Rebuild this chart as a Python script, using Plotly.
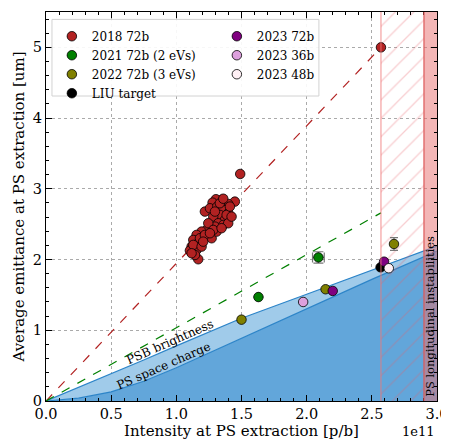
import plotly.graph_objects as go

# Intensities in units of 1e11 p/b, emittances in um
x_2018 = [1.449, 1.398, 1.347, 1.304, 1.278, 1.219, 1.258, 1.314, 1.360, 1.398,
          1.334, 1.283, 1.373, 1.321, 1.360, 1.296, 1.232, 1.271, 1.194, 1.155,
          1.130, 1.168, 1.117, 1.155, 1.104, 1.168, 1.143, 1.181, 1.309, 1.386,
          1.411, 1.334, 1.296, 1.245, 1.283, 1.219, 1.130, 1.194, 1.398, 1.347,
          1.258, 1.117, 1.206, 1.424, 1.360, 1.49, 2.57]
y_2018 = [2.819, 2.786, 2.843, 2.853, 2.805, 2.678, 2.725, 2.749, 2.702, 2.655,
          2.631, 2.607, 2.560, 2.513, 2.489, 2.466, 2.419, 2.301, 2.395, 2.348,
          2.277, 2.230, 2.183, 2.136, 2.126, 2.004, 2.065, 2.301, 2.395, 2.631,
          2.749, 2.796, 2.678, 2.513, 2.419, 2.348, 2.207, 2.183, 2.513, 2.443,
          2.372, 2.089, 2.253, 2.607, 2.860, 3.21, 5.00]

x_2021 = [1.63, 2.09]
y_2021 = [1.47, 2.03]
yerr_2021 = [0.0, 0.08]
xerr_2021 = [0.0, 0.045]

x_2022 = [1.50, 2.145, 2.67]
y_2022 = [1.15, 1.58, 2.22]
yerr_2022 = [0.0, 0.0, 0.09]

x_liu = [2.567]
y_liu = [1.89]

x_2023_72 = [2.20, 2.594]
y_2023_72 = [1.556, 1.97]
x_2023_36 = [1.973]
y_2023_36 = [1.40]
x_2023_48 = [2.63]
y_2023_48 = [1.877]

# limit curves
curve_x = [0, 0.25, 0.5, 0.75, 1.0, 1.25, 1.5, 2.0, 2.5, 3.0]
psb_brightness_y = [0, 0.19, 0.38, 0.58, 0.78, 0.98, 1.17, 1.51, 1.85, 2.19]
ps_space_charge_y = [0, 0.04, 0.13, 0.28, 0.47, 0.68, 0.89, 1.31, 1.72, 2.12]

# trend lines
red_line_x = [0, 2.57]
red_line_y = [0, 5.00]
green_line_x = [0, 2.57]
green_line_y = [0, 2.66]

# regions
hatch_region = [2.57, 2.90]
instab_region = [2.90, 3.00]
y_top = 5.5

serif = "DejaVu Serif"
fig = go.Figure()

blue_line = "rgb(44,132,200)"
fig.add_trace(go.Scatter(x=curve_x, y=ps_space_charge_y, mode="lines", fill="tozeroy",
                         fillcolor="rgb(98,166,218)", line=dict(color=blue_line, width=1.2),
                         showlegend=False, hoverinfo="skip"))
fig.add_trace(go.Scatter(x=curve_x, y=psb_brightness_y, mode="lines", fill="tonexty",
                         fillcolor="rgb(160,203,234)", line=dict(color=blue_line, width=1.2),
                         showlegend=False, hoverinfo="skip"))

# hatched region
hx = [hatch_region[0], hatch_region[1], hatch_region[1], hatch_region[0], hatch_region[0]]
hy = [0, 0, y_top, y_top, 0]
fig.add_trace(go.Scatter(x=hx, y=hy, mode="lines", fill="toself",
                         fillcolor="rgba(0,0,0,0)",
                         fillpattern=dict(shape="/", fgcolor="rgba(230,90,100,0.6)",
                                          bgcolor="rgba(0,0,0,0)", size=13, solidity=0.1),
                         line=dict(width=0), showlegend=False, hoverinfo="skip"))
# instability band
bx = [instab_region[0], instab_region[1], instab_region[1], instab_region[0], instab_region[0]]
fig.add_trace(go.Scatter(x=bx, y=hy, mode="lines", fill="toself",
                         fillcolor="rgba(232,110,110,0.5)", line=dict(width=0),
                         showlegend=False, hoverinfo="skip"))

# dashed lines
fig.add_trace(go.Scatter(x=red_line_x, y=red_line_y, mode="lines",
                         line=dict(color="rgb(178,34,34)", width=1.2, dash="dash"),
                         showlegend=False, hoverinfo="skip"))
fig.add_trace(go.Scatter(x=green_line_x, y=green_line_y, mode="lines",
                         line=dict(color="rgb(0,128,0)", width=1.2, dash="dash"),
                         showlegend=False, hoverinfo="skip"))

ms = 9.5
mline = dict(color="black", width=0.8)
errc = "rgb(120,120,120)"


def pts(x, y, color, name, legend, **kw):
    fig.add_trace(go.Scatter(x=x, y=y, mode="markers", name=name, legend=legend,
                             marker=dict(size=ms, color=color, line=mline), **kw))


pts(x_2018, y_2018, "rgb(178,34,34)", "2018 72b", "legend")
pts(x_2021, y_2021, "rgb(0,128,0)", "2021 72b (2 eVs)", "legend",
    error_y=dict(type="data", array=yerr_2021, color=errc, width=5, thickness=1.2),
    error_x=dict(type="data", array=xerr_2021, color=errc, width=5, thickness=1.2))
pts(x_2022, y_2022, "rgb(128,128,0)", "2022 72b (3 eVs)", "legend",
    error_y=dict(type="data", array=yerr_2022, color=errc, width=4, thickness=1.2))
pts(x_liu, y_liu, "black", "LIU target", "legend")
pts(x_2023_72, y_2023_72, "rgb(128,0,128)", "2023 72b", "legend2")
pts(x_2023_36, y_2023_36, "rgb(221,160,221)", "2023 36b", "legend2")
pts(x_2023_48, y_2023_48, "rgb(255,240,245)", "2023 48b", "legend2")

# vertical edges of regions
fig.add_shape(type="line", x0=hatch_region[0], x1=hatch_region[0], y0=0, y1=1,
              xref="x", yref="paper", line=dict(color="rgba(240,120,120,0.7)", width=1.2))
fig.add_shape(type="line", x0=instab_region[0], x1=instab_region[0], y0=0, y1=1,
              xref="x", yref="paper", line=dict(color="rgb(220,90,90)", width=1.2))

# legend box
fig.add_shape(type="rect", xref="paper", yref="paper", x0=0.0153, x1=0.698, y0=0.784, y1=0.981,
              fillcolor="rgba(255,255,255,0.9)", line=dict(color="rgb(210,210,210)", width=1),
              layer="above")

fig.add_annotation(x=0.95, y=0.84, text="PSB brightness", showarrow=False, textangle=-23.7,
                   font=dict(family=serif, size=12, color="black"))
fig.add_annotation(x=0.90, y=0.50, text="PS space charge", showarrow=False, textangle=-23.5,
                   font=dict(family=serif, size=12, color="black"))
fig.add_annotation(x=sum(instab_region) / 2, y=0.03, yanchor="bottom", text="PS longitudinal instabilities",
                   showarrow=False, textangle=-90, font=dict(family=serif, size=11.5, color="black"))
fig.add_annotation(xref="paper", yref="paper", x=1.0, y=-0.078, xanchor="right", yanchor="middle",
                   text="1e11", showarrow=False, font=dict(family=serif, size=13, color="black"))

axis_common = dict(showline=True, linecolor="black", linewidth=1, mirror="allticks",
                   ticks="inside", ticklen=6, tickwidth=1, tickcolor="black",
                   showgrid=True, gridcolor="rgb(170,170,170)", griddash="dot", gridwidth=1,
                   zeroline=False, automargin=False,
                   tickfont=dict(family=serif, size=14.5, color="black"))

# page body has an 8px margin: figure is sized/offset so the plot area lands at
# the same pixels as the reference inside the 449x440 window
fig.update_layout(
    width=441, height=432,
    margin=dict(l=38, r=12, t=4, b=39),
    plot_bgcolor="white", paper_bgcolor="white",
    font=dict(family=serif, size=12, color="black"),
    xaxis=dict(range=[0, 3.0], dtick=0.5, tick0=0, tickformat=".1f",
               minor=dict(dtick=0.1, ticks="inside", ticklen=3, tickcolor="black", showgrid=False),
               title=dict(text="Intensity at PS extraction [p/b]", standoff=0,
                          font=dict(family=serif, size=15)),
               **axis_common),
    yaxis=dict(range=[0, y_top], dtick=1, tick0=0,
               minor=dict(dtick=0.2, ticks="inside", ticklen=3, tickcolor="black", showgrid=False),
               title=dict(text="Average emittance at PS extraction [um]", standoff=4,
                          font=dict(family=serif, size=15)),
               **axis_common),
    legend=dict(x=0.015, y=0.975, xanchor="left", yanchor="top", bgcolor="rgba(0,0,0,0)",
                traceorder="normal", font=dict(family=serif, size=12), borderwidth=0),
    legend2=dict(x=0.437, y=0.975, xanchor="left", yanchor="top", bgcolor="rgba(0,0,0,0)",
                 traceorder="normal", font=dict(family=serif, size=12), borderwidth=0),
)

fig.write_html("out.html")
